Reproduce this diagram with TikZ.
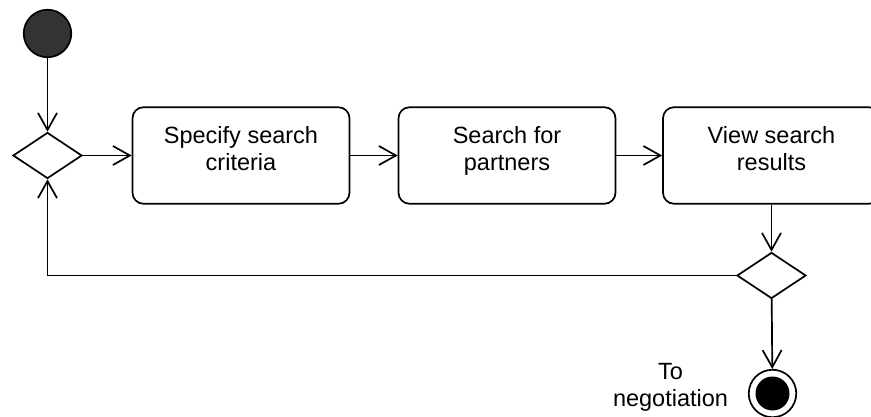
\documentclass[tikz,border=0pt]{standalone}
\usepackage{fontspec}
\setmainfont{Liberation Sans}
\usetikzlibrary{arrows.meta,shapes.geometric}
\definecolor{startgray}{RGB}{51,51,51}
\begin{document}
\begin{tikzpicture}[x=1pt,y=-1pt,line width=1.7pt,
  act/.style={draw, rounded corners=11pt, minimum width=217pt, minimum height=96.5pt, inner sep=0pt},
  dec/.style={draw, diamond, minimum width=69pt, minimum height=46pt, inner sep=0pt},
  txt/.style={font=\fontsize{23.5}{27}\selectfont, align=center, inner sep=0pt},
  flow/.style={-{Straight Barb[length=17pt,width=19pt]}}]
\useasboundingbox (0,0) rectangle (871,417);
\clip (0,0) rectangle (871,417);
\node[circle, draw, fill=startgray, minimum size=47.5pt, inner sep=0pt] (start) at (47.5,33.5) {};
\node[dec] (d1) at (47.5,155.5) {};
\node[act, label={[txt,anchor=north,yshift=-19pt]north:{Specify search\\criteria}}] (b1) at (241,155.5) {};
\node[act, label={[txt,anchor=north,yshift=-19pt]north:{Search for\\partners}}] (b2) at (507,155.5) {};
\node[act, label={[txt,anchor=north,yshift=-19pt]north:{View search\\results}}] (b3) at (771.5,155.5) {};
\node[dec] (d2) at (771.5,275.5) {};
\node[circle, draw, minimum size=47.5pt, inner sep=0pt] (endn) at (772.5,393.5) {};
\fill (endn.center) circle (17pt);
\node[txt, anchor=north] (lab) at (670.5,362) {To\\negotiation};
\draw[flow] (start) -- (d1);
\draw[flow] (d1) -- (b1);
\draw[flow] (b1) -- (b2);
\draw[flow] (b2) -- (b3);
\draw[flow] (b3) -- (d2);
\draw[flow] (d2.west) -| (d1.south);
\draw[flow] (d2) -- (endn);
\end{tikzpicture}
\end{document}
